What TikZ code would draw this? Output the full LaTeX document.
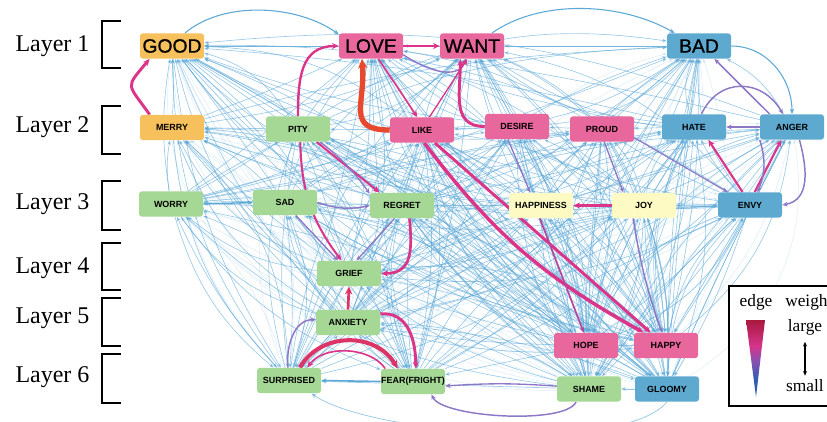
\documentclass[tikz,border=0pt]{standalone}
\usepackage{fontspec}
\setmainfont{Liberation Serif}
\newfontfamily\sansf{Liberation Sans}
\newfontfamily\sansbig[FakeBold=0.9]{Liberation Sans}
\usetikzlibrary{arrows.meta}
\definecolor{cOrange}{HTML}{F6C05C}
\definecolor{cPink}{HTML}{E8679C}
\definecolor{cGreen}{HTML}{A5D795}
\definecolor{cBlue}{HTML}{5DA9CF}
\definecolor{cYellow}{HTML}{FDFBC3}
\definecolor{eBlue}{HTML}{5CA8D6}
\definecolor{ePink}{HTML}{DC3489}
\definecolor{eRed}{HTML}{E8482E}
\definecolor{eRose}{HTML}{DE3366}
\definecolor{ePurple}{HTML}{8D78C6}
\definecolor{ePP}{HTML}{B4479F}
\definecolor{legRed}{HTML}{A8193D}
\definecolor{legPink}{HTML}{D6348A}
\definecolor{legPurple}{HTML}{8C4FB0}
\definecolor{legBlue}{HTML}{2E5DB3}
\pgfdeclarelayer{edges}
\pgfsetlayers{edges,main}
\pgfdeclareverticalshading{legsh}{100bp}{color(0bp)=(legBlue); color(36bp)=(legBlue); color(49bp)=(legPurple); color(58bp)=(legPink); color(75bp)=(legRed); color(100bp)=(legRed)}
\newcommand\smallnodefont{\sansf\bfseries\fontsize{6.7}{8}\selectfont}
\newcommand\bignodefont{\sansbig\fontsize{14.5}{16}\selectfont}
\newcommand\myedge[2]{\pgfmathsetmacro\bnd{rand*22}\draw[bluee] (#1) to[bend left=\bnd] (#2);}
\newcommand\myfaint[2]{\pgfmathsetmacro\bnd{rand*40}\draw[fainte] (#1) to[bend left=\bnd] (#2);}
\tikzset{
  nd/.style={rounded corners=2.2pt, minimum width=48pt, minimum height=19pt, inner sep=0pt, font=\smallnodefont, text=black},
  big/.style={font=\bignodefont},
  layerlab/.style={font=\fontsize{18}{20}\selectfont, inner sep=0pt},
  legtext/.style={font=\fontsize{13}{15}\selectfont, inner sep=0pt},
  brk/.style={line width=2.2pt, line join=miter},
  bluee/.style={draw=eBlue, opacity=.6, line width=.5pt, -{Stealth[length=3.4pt,width=2.6pt]}},
  fainte/.style={draw=eBlue, opacity=.2, line width=.4pt, -{Stealth[length=3pt,width=2.3pt]}},
  pk/.style={draw=ePink, -{Stealth[length=5pt,width=4.5pt]}},
  rd/.style={draw=eRed, -{Stealth[length=7pt,width=7pt]}},
  rs/.style={draw=eRose, -{Stealth[length=6pt,width=5.5pt]}},
  pu/.style={draw=ePurple, -{Stealth[length=4pt,width=3.5pt]}},
  pp/.style={draw=ePP, -{Stealth[length=4pt,width=3.5pt]}},
  bl/.style={draw=eBlue, -{Stealth[length=4pt,width=3.2pt]}},
}
\begin{document}
\begin{tikzpicture}[x=0.75pt,y=0.75pt]
\useasboundingbox (0,0) rectangle (827,-421);
\pgfmathsetseed{12}
% layer labels and brackets
\node[layerlab] (lay1) at (52.5,-46) {Layer 1};
\node[layerlab] (lay2) at (52.5,-127) {Layer 2};
\node[layerlab] (lay3) at (52.5,-204) {Layer 3};
\node[layerlab] (lay4) at (52.5,-268) {Layer 4};
\node[layerlab] (lay5) at (52.5,-318) {Layer 5};
\node[layerlab] (lay6) at (52.5,-377) {Layer 6};
\draw[brk] (121,-21) -- (102,-21) -- (102,-68) -- (121,-68);
\draw[brk] (121,-106) -- (102,-106) -- (102,-154) -- (121,-154);
\draw[brk] (121,-181) -- (102,-181) -- (102,-230) -- (121,-230);
\draw[brk] (121,-243) -- (102,-243) -- (102,-290) -- (121,-290);
\draw[brk] (121,-298) -- (102,-298) -- (102,-346) -- (121,-346);
\draw[brk] (121,-354) -- (102,-354) -- (102,-403) -- (121,-403);
% nodes
\node[nd,big,fill=cOrange] (GOOD) at (172,-46) {GOOD};
\node[nd,big,fill=cPink] (LOVE) at (371,-46) {LOVE};
\node[nd,big,fill=cPink] (WANT) at (472,-46) {WANT};
\node[nd,big,fill=cBlue] (BAD) at (699,-46) {BAD};
\node[nd,fill=cOrange] (MERRY) at (172,-127.5) {MERRY};
\node[nd,fill=cGreen] (PITY) at (298,-129) {PITY};
\node[nd,fill=cPink] (LIKE) at (422,-130) {LIKE};
\node[nd,fill=cPink] (DESIRE) at (517,-126.5) {DESIRE};
\node[nd,fill=cPink] (PROUD) at (602,-129) {PROUD};
\node[nd,fill=cBlue] (HATE) at (694,-127) {HATE};
\node[nd,fill=cBlue] (ANGER) at (792,-127) {ANGER};
\node[nd,fill=cGreen] (WORRY) at (171,-204) {WORRY};
\node[nd,fill=cGreen] (SAD) at (285,-202.5) {SAD};
\node[nd,fill=cGreen] (REGRET) at (402,-205.5) {REGRET};
\node[nd,fill=cYellow] (HAPPINESS) at (541,-205.5) {HAPPINESS};
\node[nd,fill=cYellow] (JOY) at (644,-205.5) {JOY};
\node[nd,fill=cBlue] (ENVY) at (750,-205) {ENVY};
\node[nd,fill=cGreen] (GRIEF) at (349,-273.5) {GRIEF};
\node[nd,fill=cGreen] (ANXIETY) at (348,-322.5) {ANXIETY};
\node[nd,fill=cGreen] (SURPRISED) at (289,-380.5) {SURPRISED};
\node[nd,fill=cGreen] (FEAR) at (413,-381.5) {FEAR(FRIGHT)};
\node[nd,fill=cPink] (HOPE) at (586,-345.5) {HOPE};
\node[nd,fill=cPink] (HAPPY) at (666,-345.5) {HAPPY};
\node[nd,fill=cGreen] (SHAME) at (589,-389) {SHAME};
\node[nd,fill=cBlue] (GLOOMY) at (667,-389) {GLOOMY};
\begin{pgfonlayer}{edges}
% faint halo
\foreach \s in {SURPRISED,FEAR,SHAME,GLOOMY,HOPE,HAPPY,ANXIETY,GRIEF}{\foreach \t in {GOOD,MERRY,WORRY,LOVE,BAD,ANGER,ENVY,SAD}{\myfaint{\s}{\t}}}
% dense blue web
\foreach \s in {MERRY,PITY,LIKE,DESIRE,PROUD,HATE,ANGER}{\foreach \t in {GOOD,LOVE,WANT,BAD}{\myedge{\s}{\t}}}
\foreach \s in {WORRY,SAD,REGRET,HAPPINESS,JOY,ENVY}{\foreach \t in {GOOD,LOVE,WANT,BAD,MERRY,PITY,LIKE,DESIRE,PROUD,HATE,ANGER}{\myedge{\s}{\t}}}
\foreach \s in {GRIEF,ANXIETY}{\foreach \t in {GOOD,LOVE,WANT,BAD,MERRY,PITY,LIKE,DESIRE,PROUD,HATE,ANGER,WORRY,SAD,REGRET,HAPPINESS,JOY,ENVY}{\myedge{\s}{\t}}}
\foreach \s in {SURPRISED,FEAR,HOPE,HAPPY,SHAME,GLOOMY}{\foreach \t in {GOOD,LOVE,WANT,BAD,MERRY,PITY,LIKE,DESIRE,PROUD,HATE,ANGER,WORRY,SAD,REGRET,HAPPINESS,JOY,ENVY,GRIEF,ANXIETY}{\myedge{\s}{\t}}}
\foreach \s in {GOOD,LOVE,WANT,BAD,LIKE,DESIRE,PROUD,HATE,ANGER,HAPPINESS,JOY,ENVY,REGRET}{\foreach \t in {SHAME,GLOOMY,HOPE,HAPPY}{\myedge{\s}{\t}}}
\foreach \s in {GOOD,MERRY,PITY,SAD,WORRY,REGRET,LIKE,WANT}{\foreach \t in {SURPRISED,FEAR}{\myedge{\s}{\t}}}
\foreach \s/\t in {LOVE/GOOD,WANT/GOOD,BAD/WANT,BAD/LOVE,PITY/MERRY,LIKE/PITY,DESIRE/LIKE,PROUD/DESIRE,HATE/PROUD,SAD/WORRY,REGRET/SAD,JOY/REGRET,ENVY/JOY,HAPPY/HOPE,GLOOMY/SHAME,SHAME/HOPE,HOPE/FEAR,SHAME/SURPRISED}{\draw[bluee] (\s) -- (\t);}
% strong edges
\draw[bl, line width=.8pt] (GOOD.45) to[out=40,in=145,looseness=.85] (LOVE.160);
\draw[bl, line width=.8pt] (WANT.33) to[out=35,in=150,looseness=.85] (BAD.152);
\draw[bl, line width=.8pt] (BAD.east) to[out=0,in=90,looseness=1] (ANGER.north);
\draw[bl, line width=.6pt, opacity=.6] (GLOOMY.south) to[out=-130,in=-35,looseness=.5] (SURPRISED.-30);
\draw[pk, line width=2.2pt] (MERRY.150) to[out=125,in=230,looseness=1.8] (GOOD.210);
\draw[pk, line width=1.8pt] (PITY.north) to[out=90,in=180,looseness=1.2] (LOVE.west);
\draw[rd, line width=4pt] (LIKE.west) to[out=180,in=275,looseness=1.5] (LOVE.235);
\draw[pk, line width=1.5pt] (LOVE.east) -- (WANT.west);
\draw[pu, line width=1pt] (LOVE.-15) to[out=-35,in=250,looseness=1] (WANT.245);
\draw[pk, line width=2.2pt] (DESIRE.west) to[out=180,in=270,looseness=1.2] (WANT.228);
\draw[pk, line width=1pt] (LIKE.60) -- (WANT.250);
\draw[pk, line width=1.2pt] (LOVE.300) -- (LIKE.110);
\draw[pk, line width=2.6pt] (LIKE.-80) to[bend right=12] (HAPPY.150);
\draw[pk, line width=2.2pt] (LIKE.-45) -- (HAPPY.140);
\draw[pk, line width=1.5pt] (PITY.-35) -- (REGRET.150);
\draw[pu, line width=1pt] (PITY.-30) to[bend left=8] (REGRET.160);
\draw[pk, line width=1.5pt] (PITY.-80) to[bend right=18] (GRIEF.120);
\draw[pk, line width=2pt] (REGRET.-60) to[out=-85,in=0,looseness=1.3] (GRIEF.east);
\draw[pk, line width=2.2pt] (ANXIETY.15) to[out=5,in=90,looseness=1.1] (FEAR.78);
\draw[rs, line width=2pt] (ANXIETY.north) -- (GRIEF.south);
\draw[rs, line width=3pt] (SURPRISED.50) to[out=60,in=120,looseness=1.1] (FEAR.140);
\draw[pk, line width=1.2pt] (FEAR.155) to[out=125,in=55,looseness=.9] (SURPRISED.35);
\draw[pu, line width=1.1pt] (SURPRISED.95) to[out=95,in=180,looseness=1] (ANXIETY.175);
\draw[bl, line width=1.2pt] (FEAR.west) -- (SURPRISED.east);
\draw[pu, line width=1pt] (SHAME.175) to[bend right=4] (FEAR.-8);
\draw[pu, line width=1.1pt] (SHAME.225) to[out=-115,in=-65,looseness=.45] (FEAR.325);
\draw[pu, line width=1.1pt] (JOY.230) to[bend right=5] (HAPPY.108);
\draw[pp, line width=1.3pt] (HAPPINESS.265) -- (HOPE.100);
\draw[pu, line width=1pt] (DESIRE.235) -- (HAPPINESS.130);
\draw[pu, line width=1pt] (PROUD.-80) -- (JOY.148);
\draw[pu, line width=.9pt] (PROUD.-15) -- (ENVY.150);
\draw[pk, line width=2pt] (JOY.west) -- (HAPPINESS.east);
\draw[pk, line width=1.6pt] (ENVY.120) -- (HATE.-42);
\draw[pk, line width=1.6pt] (ENVY.70) -- (ANGER.230);
\draw[pu, line width=1.3pt] (ANGER.west) -- (HATE.east);
\draw[pu, line width=1.1pt] (HATE.60) to[out=65,in=120,looseness=1.3] (ANGER.125);
\draw[pu, line width=1.1pt] (ANGER.150) -- (BAD.-40);
\draw[pu, line width=1.1pt] (ANGER.-60) to[out=-75,in=10,looseness=1.1] (ENVY.east);
\draw[pu, line width=1.1pt] (ANGER.south west) to[bend left=20] (ENVY.60);
\draw[pu, line width=1.1pt] (SAD.east) to[bend right=15] (REGRET.west);
\draw[bl, line width=1pt] (WORRY.east) -- (SAD.west);
\draw[pu, line width=1pt] (SAD.-50) -- (GRIEF.130);
\draw[pu, line width=1pt] (REGRET.-120) -- (GRIEF.60);
\end{pgfonlayer}
% legend
\draw[line width=.9pt, fill=white] (729,-286) rectangle (840,-406);
\node[legtext] (edgeLbl) at (756,-302) {edge};
\node[legtext, anchor=west] (weightLbl) at (785,-302) {weight};
\shade[shading=legsh] (746,-320) -- (765,-320) -- (756,-397) -- cycle;
\node[legtext] (largeLbl) at (805,-327) {large};
\node[legtext] (smallLbl) at (805,-386) {small};
\draw[line width=.8pt, {Stealth[length=3.5pt,width=3pt]}-{Stealth[length=3.5pt,width=3pt]}] ([yshift=-5pt]largeLbl.south) -- ([yshift=3pt]smallLbl.north);
\end{tikzpicture}
\end{document}
